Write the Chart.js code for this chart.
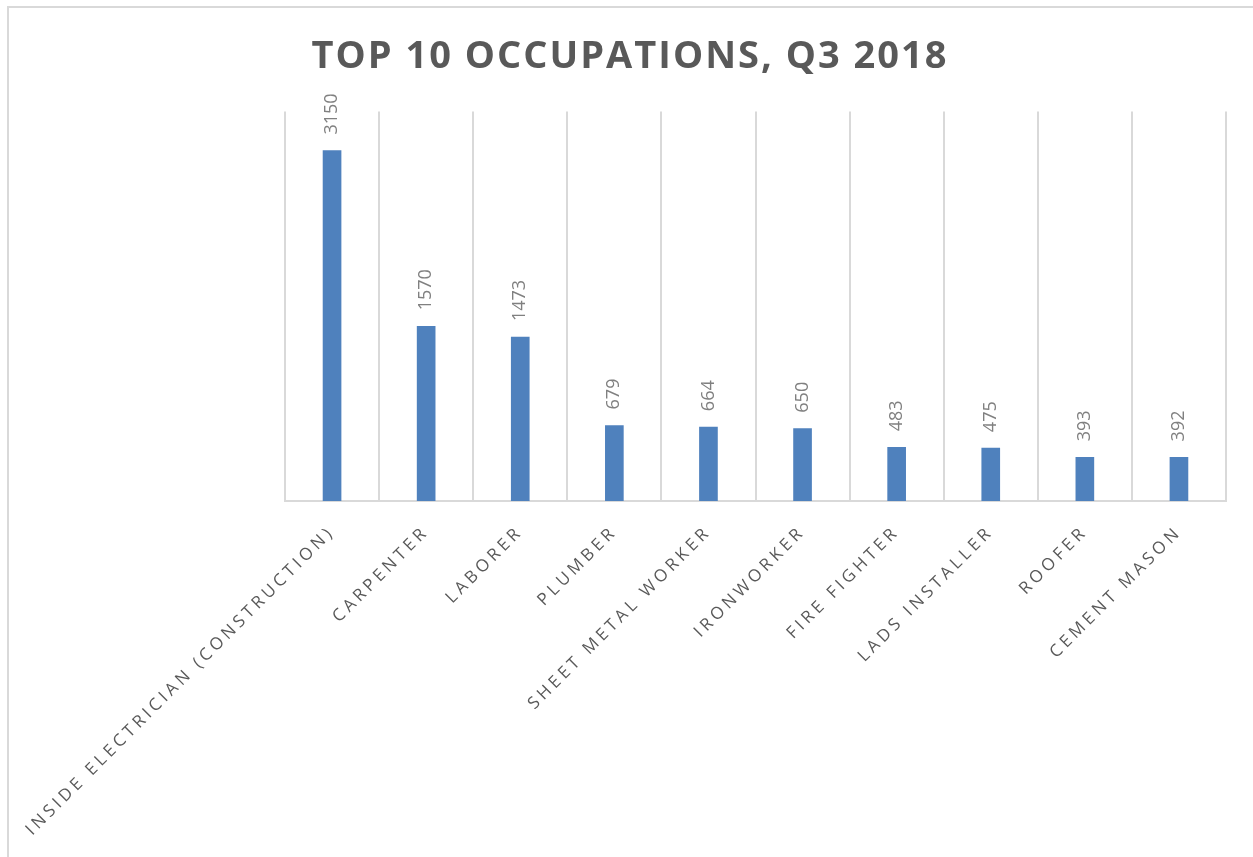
<!DOCTYPE html>
<html>
<head>
<meta charset="utf-8">
<script src="https://cdn.jsdelivr.net/npm/chart.js@4"></script>
<style>
  html, body { margin: 0; padding: 0; background: #fff; overflow: hidden; }
  .frame { position: absolute; left: 7px; top: 6px; width: 1300px; height: 900px;
           border-top: 2px solid #d9d9d9; border-left: 2px solid #d9d9d9; }
  .wrap { position: absolute; left: 0; top: 0; width: 1253px; height: 857px; }
</style>
</head>
<body>
<div class="frame"></div>
<div class="wrap"><canvas id="chart"></canvas></div>
<script>
const occupations = [
  'INSIDE ELECTRICIAN (CONSTRUCTION)', 'CARPENTER', 'LABORER', 'PLUMBER',
  'SHEET METAL WORKER', 'IRONWORKER', 'FIRE FIGHTER', 'LADS INSTALLER',
  'ROOFER', 'CEMENT MASON'
];
const counts = [3150, 1570, 1473, 679, 664, 650, 483, 475, 393, 392];
const yMax = 3500;

const TITLE_SPACING = '2px';
const TICK_SPACING = '3.8px';

// letter spacing: title is drawn before the datasets, tick labels (z: 1) after
const spacing = {
  id: 'spacing',
  beforeUpdate(chart) { chart.ctx.letterSpacing = TICK_SPACING; },
  beforeDraw(chart) { chart.ctx.letterSpacing = TITLE_SPACING; },
  afterDatasetsDraw(chart) { chart.ctx.letterSpacing = TICK_SPACING; }
};

// vertical value labels above each bar
const barLabels = {
  id: 'barLabels',
  afterDatasetsDraw(chart) {
    const ctx = chart.ctx;
    const meta = chart.getDatasetMeta(0);
    ctx.save();
    ctx.letterSpacing = '0px';
    ctx.font = '18px "Open Sans"';
    ctx.fillStyle = '#808080';
    ctx.textAlign = 'left';
    ctx.textBaseline = 'middle';
    meta.data.forEach((bar, i) => {
      ctx.save();
      ctx.translate(bar.x, bar.y - 16);
      ctx.rotate(-Math.PI / 2);
      ctx.fillText(String(counts[i]), 0, 0);
      ctx.restore();
    });
    ctx.restore();
  }
};

new Chart(document.getElementById('chart').getContext('2d'), {
  type: 'bar',
  data: {
    labels: occupations,
    datasets: [{
      data: counts,
      backgroundColor: '#4f81bd',
      borderWidth: 0,
      barThickness: 18
    }]
  },
  options: {
    responsive: true,
    maintainAspectRatio: false,
    animation: false,
    layout: { padding: { left: 34, right: 27, top: 0, bottom: 0 } },
    plugins: {
      legend: { display: false },
      tooltip: { enabled: false },
      title: {
        display: true,
        text: 'TOP 10 OCCUPATIONS, Q3 2018',
        color: '#595959',
        font: { family: 'Open Sans', size: 38, weight: 'bold', lineHeight: 1.2 },
        padding: { top: 34, bottom: 32 }
      }
    },
    scales: {
      x: {
        offset: true,
        grid: { display: true, offset: true, color: '#d9d9d9', lineWidth: 2, drawTicks: false },
        border: { display: true, color: '#d9d9d9', width: 2 },
        ticks: {
          z: 1,
          autoSkip: false,
          minRotation: 45,
          maxRotation: 45,
          padding: 21,
          color: '#595959',
          font: { family: 'Open Sans', size: 17 }
        },
        afterFit: (s) => {
          s.height = 356;
          s.paddingLeft = 0;
          s.paddingRight = 0;
        }
      },
      y: {
        min: 0,
        max: yMax,
        ticks: { display: false },
        grid: { display: false },
        border: { display: false },
        afterFit: (s) => { s.width = 251; }
      }
    }
  },
  plugins: [spacing, barLabels]
});
</script>
</body>
</html>
